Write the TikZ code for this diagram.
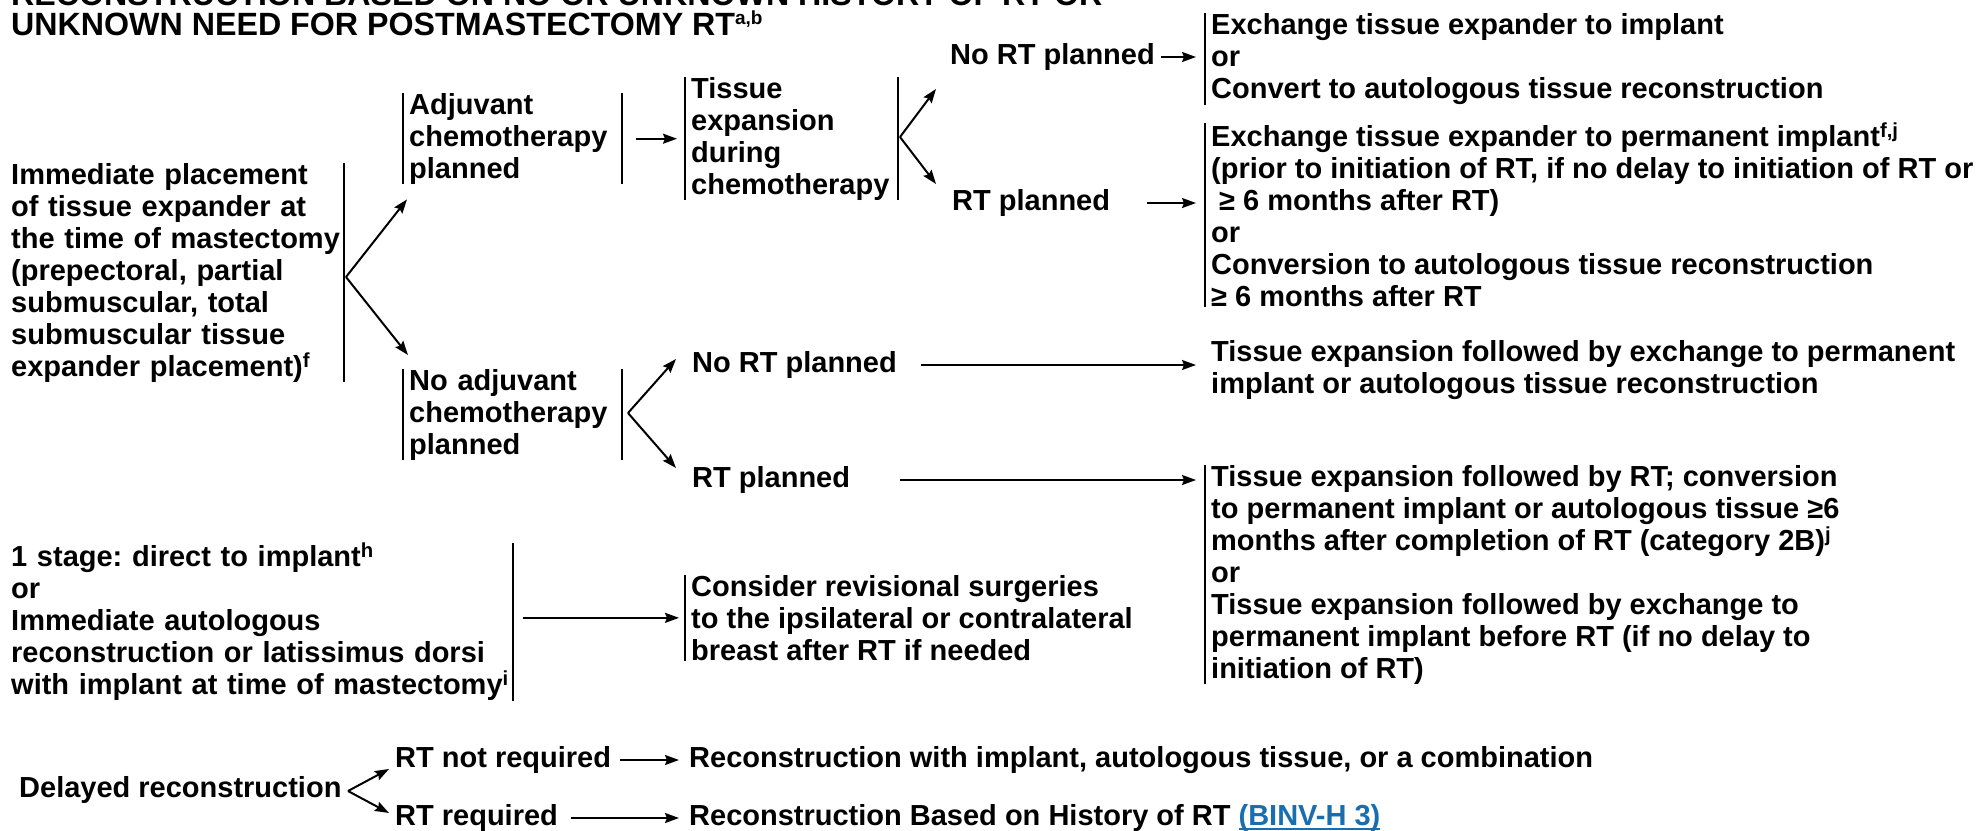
\documentclass[tikz,border=0pt]{standalone}
\usepackage{fontspec}
\setmainfont{Liberation Sans}
\usetikzlibrary{arrows.meta}
\definecolor{linkblue}{RGB}{25,110,175}
\newcommand{\bodysize}{\fontsize{29}{32}\selectfont\bfseries\frenchspacing}
\newcommand{\headsize}{\fontsize{32.2}{27}\selectfont\bfseries}
\newcommand{\headsup}[1]{\raisebox{11pt}{\fontsize{19}{19}\selectfont #1}}
\newcommand{\linkul}[1]{\setbox0\hbox{#1}\rlap{\rule[-4pt]{\wd0}{1.8pt}}\box0}
\tikzset{
  blk/.style={align=left, inner xsep=6pt, inner ysep=0pt, font=\bodysize},
  lbl/.style={align=left, inner sep=0pt, font=\bodysize},
  arr/.style={line width=2pt, -{Stealth[length=14pt,width=10pt,inset=2pt]}},
  barline/.style={line width=2pt}
}
\begin{document}
\begin{tikzpicture}[x=1pt,y=-1pt]
\useasboundingbox (0,0) rectangle (1988,830);
% heading, top line cut by the page edge
\node[anchor=base west, inner sep=0pt, font=\headsize] (head1) at (11,5) {RECONSTRUCTION BASED ON NO OR UNKNOWN HISTORY OF RT OR};
\node[anchor=base west, inner sep=0pt, font=\headsize] (head2) at (11,35) {UNKNOWN NEED FOR POSTMASTECTOMY RT\headsup{a,b}};

% immediate placement of expander
\node[lbl, anchor=north west, text width=333pt] (tex) at (11,163) {Immediate placement\\of tissue expander at\\the time of mastectomy\\(prepectoral, partial\\submuscular, total\\submuscular tissue\\expander placement)\textsuperscript{f}};
\node[blk, anchor=north west, text width=207pt] (adj) at (403,93) {Adjuvant\\chemotherapy\\planned};
\node[blk, anchor=north west, text width=207pt] (noadj) at (403,369) {No adjuvant\\chemotherapy\\planned};
\node[blk, anchor=north west, text width=201pt] (tis) at (685,77) {Tissue\\expansion\\during\\chemotherapy};

\node[lbl, anchor=west] (nrt1) at (950,57) {No RT planned};
\node[lbl, anchor=west] (rtp1) at (952,203) {RT planned};
\node[lbl, anchor=west] (nrt2) at (692,365) {No RT planned};
\node[lbl, anchor=west] (rtp2) at (692,480) {RT planned};

\node[blk, anchor=north west] (ex1) at (1205,13) {Exchange tissue expander to implant\\or\\Convert to autologous tissue reconstruction};
\node[blk, anchor=north west] (ex2) at (1205,123) {Exchange tissue expander to permanent implant\textsuperscript{f,j}\\(prior to initiation of RT, if no delay to initiation of RT or\\\hspace*{8pt}≥ 6 months after RT)\\or\\Conversion to autologous tissue reconstruction\\≥ 6 months after RT};
\node[blk, anchor=west] (ex3) at (1205,370) {Tissue expansion followed by exchange to permanent\\implant or autologous tissue reconstruction};
\node[blk, anchor=north west] (ex4) at (1205,465) {Tissue expansion followed by RT; conversion\\to permanent implant or autologous tissue ≥6\\months after completion of RT (category 2B)\textsuperscript{j}\\or\\Tissue expansion followed by exchange to\\permanent implant before RT (if no delay to\\initiation of RT)};

% one stage and revisions
\node[lbl, anchor=north west, text width=502pt] (stage) at (11,543) {1 stage: direct to implant\textsuperscript{h}\\or\\Immediate autologous\\reconstruction or latissimus dorsi\\with implant at time of mastectomy\textsuperscript{i}};
\node[blk, anchor=north west] (cons) at (685,575) {Consider revisional surgeries\\to the ipsilateral or contralateral\\breast after RT if needed};

% delayed reconstruction
\node[lbl, anchor=west] (del) at (19,790) {Delayed reconstruction};
\node[lbl, anchor=west] (rnr) at (395,760) {RT not required};
\node[lbl, anchor=west] (rr) at (395,818) {RT required};
\node[lbl, anchor=west] (rw) at (689,760) {Reconstruction with implant, autologous tissue, or a combination};
\node[lbl, anchor=west] (rb) at (689,818) {Reconstruction Based on History of RT \textcolor{linkblue}{\linkul{(BINV-H 3)}}};

\foreach \n in {adj,noadj,tis,ex1,ex2,ex4,cons}
{
    \draw[barline] (\n.north west) -- (\n.south west);
}
\foreach \n in {tex,adj,noadj,tis,stage}
{
    \draw[barline] (\n.north east) -- (\n.south east);
}

\coordinate (fA) at (346,277);
\coordinate (fB) at (900,137);
\coordinate (fC) at (628,413);
\coordinate (fD) at (348,791);
\draw[arr] (fA) -- ([shift={(4,15)}]adj.south west);
\draw[arr] (fA) -- ([shift={(5,-14)}]noadj.north west);
\draw[arr] (fB) -- ([shift={(-14,32)}]nrt1.west);
\draw[arr] (fB) -- ([shift={(-16,-19)}]rtp1.west);
\draw[arr] (fC) -- ([shift={(-16,-6)}]nrt2.west);
\draw[arr] (fC) -- ([shift={(-16,-12)}]rtp2.west);
\draw[arr] (fD) -- ([shift={(-6,9)}]rnr.west);
\draw[arr] (fD) -- ([shift={(-6,-5)}]rr.west);

\draw[arr] ([xshift=14pt]adj.east) -- ([xshift=-8pt]tis.west |- adj.east);
\draw[arr] ([xshift=6pt]nrt1.east) -- ([xshift=-9pt]ex1.west |- nrt1.east);
\draw[arr] ([xshift=37pt]rtp1.east) -- ([xshift=-9pt]ex2.west |- rtp1.east);
\draw[arr] ([xshift=24pt]nrt2.east) -- ([xshift=-9pt]ex3.west |- nrt2.east);
\draw[arr] ([xshift=50pt]rtp2.east) -- ([xshift=-9pt]ex4.west |- rtp2.east);
\draw[arr] ([xshift=10pt]stage.east |- cons.west) -- ([xshift=-6pt]cons.west);
\draw[arr] ([xshift=9pt]rnr.east) -- ([xshift=-10pt]rw.west |- rnr.east);
\draw[arr] ([xshift=13pt]rr.east) -- ([xshift=-10pt]rb.west |- rr.east);
\end{tikzpicture}
\end{document}
